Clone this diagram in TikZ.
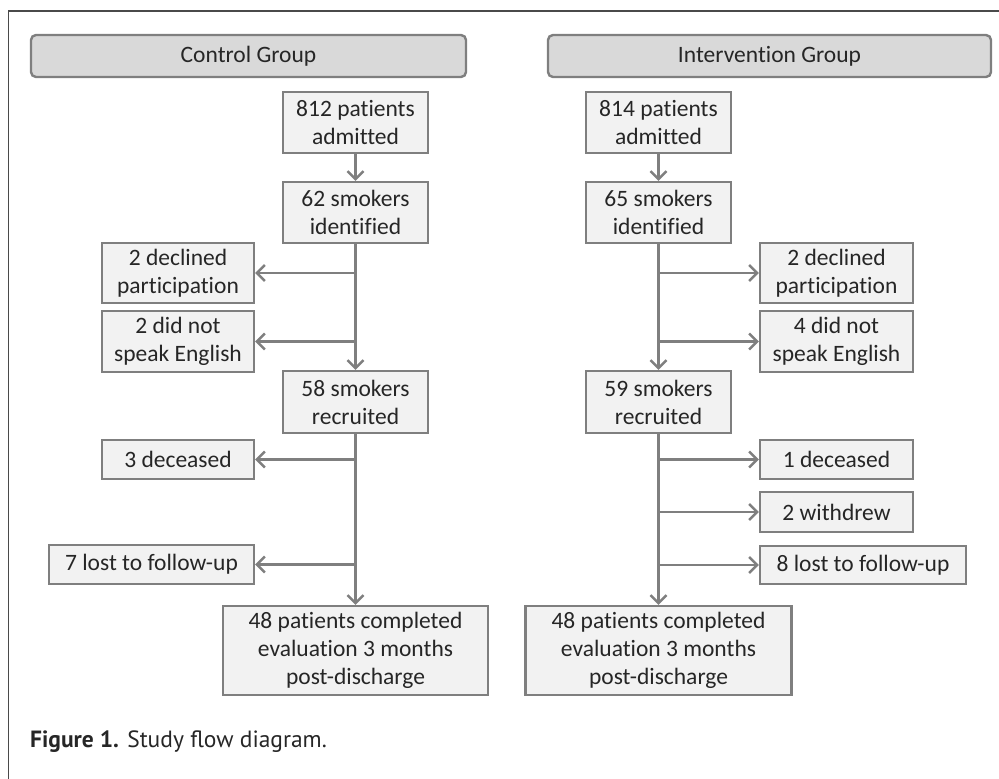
\documentclass[tikz,border=0pt]{standalone}
\usepackage{fontspec}
\setmainfont[Ligatures=NoCommon]{Carlito}
\newfontfamily\capfont{PT Sans}
\usetikzlibrary{arrows.meta,positioning}
\definecolor{bordergray}{HTML}{7F7F7F}
\definecolor{boxfill}{HTML}{F2F2F2}
\definecolor{headfill}{HTML}{D9D9D9}
\definecolor{txt}{HTML}{262626}
\definecolor{framec}{HTML}{4A4A4A}
\tikzset{
  box/.style={draw=bordergray, fill=boxfill, line width=2.4pt, inner sep=0pt,
    align=center, text=txt, font=\fontsize{23.5}{28}\selectfont},
  headbox/.style={draw=bordergray, fill=headfill, line width=2.4pt, inner sep=0pt,
    rounded corners=5pt, text=txt, font=\fontsize{23.5}{28}\selectfont},
  arr/.style={draw=bordergray, line width=2.4pt, -{Straight Barb[length=8pt,width=16pt]}},
}
\begin{document}
\begin{tikzpicture}[x=1pt,y=-1pt]
\useasboundingbox (0,0) rectangle (999,779);
\draw[framec, line width=1.5pt] (8.5,779) -- (8.5,11) -- (999,11);

% headers
\node[headbox, minimum width=435pt, minimum height=42pt] (hc) at (248.5,56) {Control Group};
\node[headbox, minimum width=443pt, minimum height=42pt] (hi) at (769.5,56) {Intervention Group};

% control column
\node[box, minimum width=145pt, minimum height=61pt] (c1) at (355.5,122.5) {812 patients\\admitted};
\node[box, minimum width=145pt, minimum height=61pt] (c2) at (355.5,212.5) {62 smokers\\identified};
\node[box, minimum width=145pt, minimum height=62pt] (c3) at (355.5,402) {58 smokers\\recruited};
\node[box, minimum width=265pt, minimum height=89pt] (c4) at (355.5,650.5) {48 patients completed\\evaluation 3 months\\post-discharge};
\node[box, minimum width=152pt, minimum height=60pt] (cd1) at (178,273) {2 declined\\participation};
\node[box, minimum width=152pt, minimum height=61pt] (cd2) at (178,341.5) {2 did not\\speak English};
\node[box, minimum width=152pt, minimum height=39pt] (cd3) at (178,459.5) {3 deceased};
\node[box, minimum width=205pt, minimum height=39pt] (cd4) at (151.5,564.5) {7 lost to follow-up};

% intervention column
\node[box, minimum width=145pt, minimum height=61pt] (i1) at (658.5,122.5) {814 patients\\admitted};
\node[box, minimum width=145pt, minimum height=61pt] (i2) at (658.5,212.5) {65 smokers\\identified};
\node[box, minimum width=145pt, minimum height=62pt] (i3) at (658.5,402) {59 smokers\\recruited};
\node[box, minimum width=266pt, minimum height=89pt] (i4) at (658.5,650.5) {48 patients completed\\evaluation 3 months\\post-discharge};
\node[box, minimum width=153pt, minimum height=60pt] (id1) at (836.5,273) {2 declined\\participation};
\node[box, minimum width=153pt, minimum height=61pt] (id2) at (836.5,341.5) {4 did not\\speak English};
\node[box, minimum width=153pt, minimum height=39pt] (id3) at (836.5,459.5) {1 deceased};
\node[box, minimum width=153pt, minimum height=40pt] (id4) at (836.5,512) {2 withdrew};
\node[box, minimum width=206pt, minimum height=38pt] (id5) at (863,565) {8 lost to follow-up};

% control connectors
\draw[arr] (c1.south) -- (c2.north);
\draw[arr] (c2.south) -- (c3.north);
\draw[arr] (c2.south |- cd1.east) -- (cd1.east);
\draw[arr] (c2.south |- cd2.east) -- (cd2.east);
\draw[arr] (c3.south) -- (c4.north);
\draw[arr] (c3.south |- cd3.east) -- (cd3.east);
\draw[arr] (c3.south |- cd4.east) -- (cd4.east);

% intervention connectors
\draw[arr] (i1.south) -- (i2.north);
\draw[arr] (i2.south) -- (i3.north);
\draw[arr] (i2.south |- id1.west) -- (id1.west);
\draw[arr] (i2.south |- id2.west) -- (id2.west);
\draw[arr] (i3.south) -- (i4.north);
\draw[arr] (i3.south |- id3.west) -- (id3.west);
\draw[arr] (i3.south |- id4.west) -- (id4.west);
\draw[arr] (i3.south |- id5.west) -- (id5.west);

% caption
\node[anchor=base west, inner sep=0pt, text=txt, font=\capfont\fontsize{23.5}{28}\selectfont] (cap) at (30,747) {\textbf{Figure 1.} Study flow diagram.};
\end{tikzpicture}
\end{document}
